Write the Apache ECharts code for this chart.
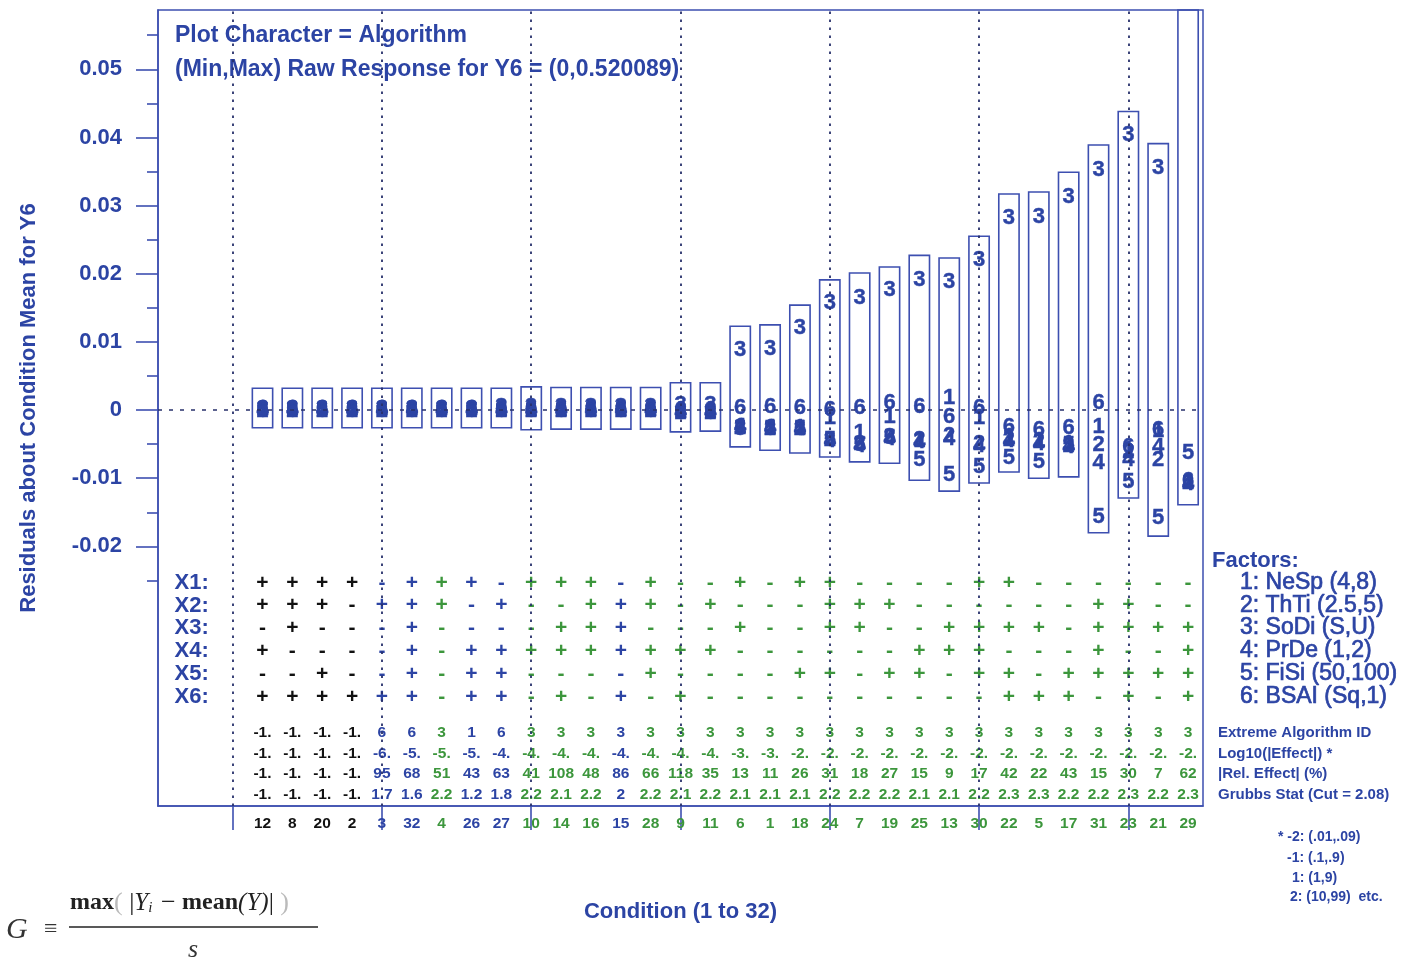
<!DOCTYPE html>
<html><head><meta charset="utf-8">
<script src="https://cdn.jsdelivr.net/npm/echarts@6/dist/echarts.min.js"></script>
<style>html,body{margin:0;padding:0;background:#fff}#c{width:1414px;height:960px}</style>
</head><body><div id="c"></div>
<script>
// ---------------- data ----------------
const conditions = [12,8,20,2,3,32,4,26,27,10,14,16,15,28,9,11,6,1,18,24,7,19,25,13,30,22,5,17,31,23,21,29];
const columnGroup = ['k','k','k','k','b','b','g','b','b','g','g','g','b','g','g','g',
                     'g','g','g','g','g','g','g','g','g','g','g','g','g','g','g','g'];
// residuals about condition mean, one array per algorithm (plot character)
const alg1 = [0.0001,0.0001,0.0001,0.0001,0.0001,0.0001,0.0001,0.0001,0,0,0,0,0,0,-0.0003,-0.0003,
              -0.0025,-0.0026,-0.0026,-0.0012,-0.0034,-0.0010,-0.0045,0.0018,-0.0012,-0.0040,-0.0045,-0.0050,-0.0025,-0.0058,-0.0031,-0.0106];
const alg2 = [-0.0001,-0.0001,-0.0001,-0.0001,-0.0001,-0.0001,-0.0001,-0.0001,-0.0001,-0.0001,-0.0001,-0.0001,-0.0001,-0.0001,-0.0004,-0.0004,
              -0.0026,-0.0028,-0.0027,-0.0044,-0.0050,-0.0040,-0.0044,-0.0038,-0.0050,-0.0044,-0.0047,-0.0052,-0.0051,-0.0062,-0.0073,-0.0107];
const alg3 = [0.0002,0.0002,0.0002,0.0002,0.0002,0.0002,0.0002,0.0002,0.0004,0.0004,0.0004,0.0004,0.0004,0.0004,0.0008,0.0008,
              0.0088,0.0089,0.0120,0.0157,0.0164,0.0176,0.0191,0.0188,0.0220,0.0282,0.0283,0.0312,0.0352,0.0403,0.0355,0.0650];
const alg4 = [0,0,0,0,0,0,0,0,0,0,0,0,0,0,-0.0003,-0.0003,
              -0.0025,-0.0026,-0.0028,-0.0046,-0.0052,-0.0042,-0.0047,-0.0042,-0.0053,-0.0046,-0.0049,-0.0054,-0.0078,-0.0073,-0.0054,-0.0109];
const alg5 = [-0.0002,-0.0002,-0.0002,-0.0002,-0.0002,-0.0002,-0.0002,-0.0002,-0.0002,-0.0002,-0.0002,-0.0002,-0.0002,-0.0002,-0.0004,-0.0004,
              -0.0027,-0.0027,-0.0027,-0.0044,-0.0051,-0.0041,-0.0073,-0.0095,-0.0084,-0.0070,-0.0076,-0.0051,-0.0157,-0.0106,-0.0158,-0.0063];
const alg6 = [0.0001,0.0001,0.0001,0.0001,0.0001,0.0001,0.0001,0.0001,0.0001,0.0001,0.0001,0.0001,0.0001,0.0001,0,0,
              0.0003,0.0004,0.0003,0,0.0003,0.0010,0.0004,-0.0010,0.0003,-0.0025,-0.0029,-0.0026,0.0010,-0.0054,-0.0029,-0.0104];
// box extents per condition
const boxHigh = [0.0032,0.0032,0.0032,0.0032,0.0032,0.0032,0.0032,0.0032,0.0032,0.0034,0.0033,0.0033,0.0033,0.0033,0.0040,0.0040,
                 0.0123,0.0125,0.0154,0.0191,0.0201,0.0210,0.0227,0.0223,0.0255,0.0317,0.0320,0.0349,0.0389,0.0438,0.0391,0.0690];
const boxLow  = [-0.0026,-0.0026,-0.0026,-0.0026,-0.0026,-0.0026,-0.0026,-0.0026,-0.0026,-0.0029,-0.0028,-0.0028,-0.0028,-0.0028,-0.0032,-0.0031,
                 -0.0054,-0.0059,-0.0063,-0.0069,-0.0076,-0.0078,-0.0103,-0.0119,-0.0107,-0.0091,-0.0100,-0.0098,-0.0180,-0.0129,-0.0185,-0.0139];
// factor settings
const X1 = ['+','+','+','+','-','+','+','+','-','+','+','+','-','+','-','-','+','-','+','+','-','-','-','-','+','+','-','-','-','-','-','-'];
const X2 = ['+','+','+','-','+','+','+','-','+','-','-','+','+','+','-','+','-','-','-','+','+','+','-','-','-','-','-','-','+','+','-','-'];
const X3 = ['-','+','-','-','-','+','-','-','-','-','+','+','+','-','-','-','+','-','-','+','+','-','-','+','+','+','+','-','+','+','+','+'];
const X4 = ['+','-','-','-','-','+','-','+','+','+','+','+','+','+','+','+','-','-','-','-','-','-','+','+','+','-','-','-','+','-','-','+'];
const X5 = ['-','-','+','-','-','+','-','+','+','-','-','-','-','+','-','-','-','-','+','+','-','+','+','-','+','+','-','+','+','+','+','+'];
const X6 = ['+','+','+','+','+','+','-','+','+','-','+','-','+','-','+','-','-','-','-','-','-','-','-','-','-','+','+','+','-','+','-','+'];
const factorLabels = ['X1:','X2:','X3:','X4:','X5:','X6:'];
// statistics rows
const extremeId   = ['-1.','-1.','-1.','-1.','6','6','3','1','6','3','3','3','3','3','3','3','3','3','3','3','3','3','3','3','3','3','3','3','3','3','3','3'];
const log10Effect = ['-1.','-1.','-1.','-1.','-6.','-5.','-5.','-5.','-4.','-4.','-4.','-4.','-4.','-4.','-4.','-4.','-3.','-3.','-2.','-2.','-2.','-2.','-2.','-2.','-2.','-2.','-2.','-2.','-2.','-2.','-2.','-2.'];
const relEffect   = ['-1.','-1.','-1.','-1.','95','68','51','43','63','41','108','48','86','66','118','35','13','11','26','31','18','27','15','9','17','42','22','43','15','30','7','62'];
const grubbs      = ['-1.','-1.','-1.','-1.','1.7','1.6','2.2','1.2','1.8','2.2','2.1','2.2','2','2.2','2.1','2.2','2.1','2.1','2.1','2.2','2.2','2.2','2.1','2.1','2.2','2.3','2.3','2.2','2.2','2.3','2.2','2.3'];
// axis ticks
const yMajorTicks = [-0.02,-0.01,0,0.01,0.02,0.03,0.04,0.05];
const yMinorTicks = [-0.025,-0.015,-0.005,0.005,0.015,0.025,0.035,0.045,0.055];
const xRefLines = [0,5,10,15,20,25,30];
const factorLegend = ['1: NeSp (4,8)','2: ThTi (2.5,5)','3: SoDi (S,U)','4: PrDe (1,2)','5: FiSi (50,100)','6: BSAI (Sq,1)'];
const statLegend = ['Extreme Algorithm ID','Log10(|Effect|) *','|Rel. Effect| (%)','Grubbs Stat (Cut = 2.08)'];
const footnotes = ['* -2: (.01,.09)','-1: (.1,.9)','1: (1,9)','2: (10,99)  etc.'];

// ---------------- layout / style ----------------
const FONT = '"Liberation Sans", Arial, Helvetica, sans-serif';
const BLUE = '#2c44a4';
const FRAME = '#3d4fb0';
const DOT = '#27306b';
const COLORS = {k:'#111111', b:'#2c44a4', g:'#3c963c'};
const colColor = i => COLORS[columnGroup[i]];
const signRowPx = [583, 605.5, 628, 651, 674, 697];   // table layout rows (screen px)
const statRowPx = [733, 753.5, 774, 795];
const HIDDEN = {color:'rgba(0,0,0,0)', opacity:1};

const chart = echarts.init(document.getElementById('c'));
const series = [];

// boxes (min..max)
series.push({
  type:'custom', name:'box', z:3, silent:true,
  data: conditions.map((c,i)=>[i+1, boxLow[i], boxHigh[i]]),
  renderItem(params, api){
    const i = api.value(0);
    const p1 = api.coord([i-0.34, api.value(2)]);
    const p2 = api.coord([i+0.34, api.value(1)]);
    const top = Math.max(p1[1], params.coordSys.y);
    return {type:'rect', shape:{x:p1[0], y:top, width:p2[0]-p1[0], height:p2[1]-top},
            style:{fill:'none', stroke:FRAME, lineWidth:1.6}};
  }
});

// plot characters
[alg1,alg2,alg3,alg4,alg5,alg6].forEach((arr,k)=>{
  const s = {
    type:'scatter', z:4, silent:true, clip:true,
    data: arr.map((v,i)=>[i+1, v]),
    symbolSize:1, itemStyle:HIDDEN,
    label:{show:true, position:'inside', formatter:String(k+1), color:BLUE, opacity:1,
           fontSize:22, fontWeight:'bold', fontFamily:FONT, textBorderColor:BLUE, textBorderWidth:0.4}
  };
  if (k===0) {
    s.markLine = {
      silent:true, symbol:['none','none'], label:{show:false}, animation:false,
      data: xRefLines.map(x=>({xAxis:x, lineStyle:{type:[2.5,5.5], width:1.8, color:DOT, opacity:1}}))
            .concat([{yAxis:0, lineStyle:{type:[4,7], width:1.5, color:DOT, opacity:1}}])
    };
  }
  series.push(s);
});

// factor sign table
[X1,X2,X3,X4,X5,X6].forEach((row,r)=>{
  series.push({
    type:'scatter', yAxisIndex:2, silent:true, z:4,
    data: row.map((sgn,i)=>({value:[i+1, signRowPx[r]], name:sgn, label:{color:colColor(i)}})),
    symbolSize:1, itemStyle:HIDDEN,
    label:{show:true, position:'inside', formatter:'{b}', opacity:1, fontSize:21, fontWeight:'bold', fontFamily:FONT}
  });
});
// factor row names
series.push({
  type:'scatter', yAxisIndex:2, silent:true, z:4,
  data: factorLabels.map((t,r)=>({value:[-0.78, signRowPx[r]], name:t})),
  symbolSize:1, itemStyle:HIDDEN,
  label:{show:true, position:'left', distance:0, formatter:'{b}', color:BLUE, opacity:1, fontSize:22, fontWeight:'bold', fontFamily:FONT}
});
// statistics rows
[extremeId, log10Effect, relEffect, grubbs].forEach((row,r)=>{
  series.push({
    type:'scatter', yAxisIndex:2, silent:true, z:4,
    data: row.map((t,i)=>({value:[i+1, statRowPx[r]], name:t, label:{color:colColor(i)}})),
    symbolSize:1, itemStyle:HIDDEN,
    label:{show:true, position:'inside', formatter:'{b}', opacity:1, fontSize:15.5, fontWeight:'bold', fontFamily:FONT}
  });
});

// graphic texts
const graphic = [];
const txt = (x,y,text,font,fill,extra)=>graphic.push({type:'text', x, y, silent:true,
  style:Object.assign({text, font, fill, verticalAlign:'middle', align:'left'}, extra||{})});
txt(175, 36, 'Plot Character = Algorithm', 'bold 23px '+FONT, BLUE);
txt(175, 70, '(Min,Max) Raw Response for Y6 = (0,0.520089)', 'bold 23px '+FONT, BLUE);
txt(1212, 561, 'Factors:', 'bold 22px '+FONT, BLUE);
factorLegend.forEach((t,r)=>txt(1240, signRowPx[r], t, '23px '+FONT, BLUE, {stroke:BLUE, lineWidth:0.7}));
statLegend.forEach((t,r)=>txt(1218, statRowPx[r], t, 'bold 15px '+FONT, BLUE));
[[1278,837],[1287,858],[1292,878],[1290,897]].forEach((p,r)=>txt(p[0], p[1], footnotes[r], 'bold 14px '+FONT, BLUE));
// Grubbs formula
const SERIF = '"Liberation Serif", "DejaVu Serif", Times, serif';
txt(6, 930, 'G', 'italic 30px '+SERIF, '#333');
txt(44, 930, '\u2261', '24px '+SERIF, '#333');
graphic.push({type:'text', x:70, y:903, silent:true, style:{
  text:'{b|max}{g|( }{n||}{i|Y}{s|i}{n| \u2212 }{b|mean}{i|(Y)}{n||}{g| )}',
  verticalAlign:'middle', align:'left', fill:'#222', font:'24px '+SERIF,
  rich:{
    b:{fontFamily:SERIF, fontWeight:'bold', fontSize:24, fill:'#222'},
    i:{fontFamily:SERIF, fontStyle:'italic', fontSize:25, fill:'#222'},
    s:{fontFamily:SERIF, fontStyle:'italic', fontSize:15, fill:'#222', verticalAlign:'bottom', padding:[10,2,0,0]},
    n:{fontFamily:SERIF, fontSize:26, fill:'#222'},
    g:{fontFamily:SERIF, fontSize:26, fill:'#bbb'}
  }}});
graphic.push({type:'line', silent:true, shape:{x1:69, y1:927, x2:318, y2:927}, style:{stroke:'#222', lineWidth:1.5}});
txt(188, 950, 's', 'italic 26px '+SERIF, '#333');

const xLabelValues = conditions.map((c,i)=>i+1);

chart.setOption({
  animation:false,
  backgroundColor:'#ffffff',
  grid:{left:158, top:10, width:1045, height:796, show:true, borderColor:FRAME, borderWidth:1.5},
  xAxis:{
    type:'value', min:-2.5, max:32.5,
    axisLine:{show:true, onZero:false, lineStyle:{color:FRAME, width:1.5}},
    axisTick:{show:true, customValues:xRefLines, length:24, lineStyle:{color:FRAME, width:1.6}},
    axisLabel:{customValues:xLabelValues, margin:10,
      formatter:v=>String(conditions[Math.round(v)-1]),
      color:(v)=>colColor(Math.round(Number(v))-1),
      fontSize:15.5, fontWeight:'bold', fontFamily:FONT},
    splitLine:{show:false},
    name:'Condition (1 to 32)', nameLocation:'middle', nameGap:95,
    nameTextStyle:{color:BLUE, fontSize:22, fontWeight:'bold', fontFamily:FONT}
  },
  yAxis:[
    {type:'value', min:-0.0581, max:0.0587,
     axisLine:{show:true, onZero:false, lineStyle:{color:FRAME, width:1.5}},
     axisTick:{show:true, customValues:yMajorTicks, length:22, lineStyle:{color:FRAME, width:1.6}},
     axisLabel:{customValues:yMajorTicks, margin:36, formatter:v=>v===0?'0':v.toFixed(2),
       color:BLUE, fontSize:22, fontWeight:'bold', fontFamily:FONT},
     splitLine:{show:false},
     name:'Residuals about Condition Mean for Y6', nameLocation:'middle', nameGap:118, nameRotate:90,
     nameTextStyle:{color:BLUE, fontSize:22, fontWeight:'bold', fontFamily:FONT}},
    {type:'value', min:-0.0581, max:0.0587, position:'left',
     axisLine:{show:false, onZero:false},
     axisTick:{show:true, customValues:yMinorTicks, length:11, lineStyle:{color:FRAME, width:1.6}},
     axisLabel:{show:false}, splitLine:{show:false}},
    {type:'value', min:10, max:806, inverse:true, show:false}
  ],
  series,
  graphic
});
</script></body></html>
